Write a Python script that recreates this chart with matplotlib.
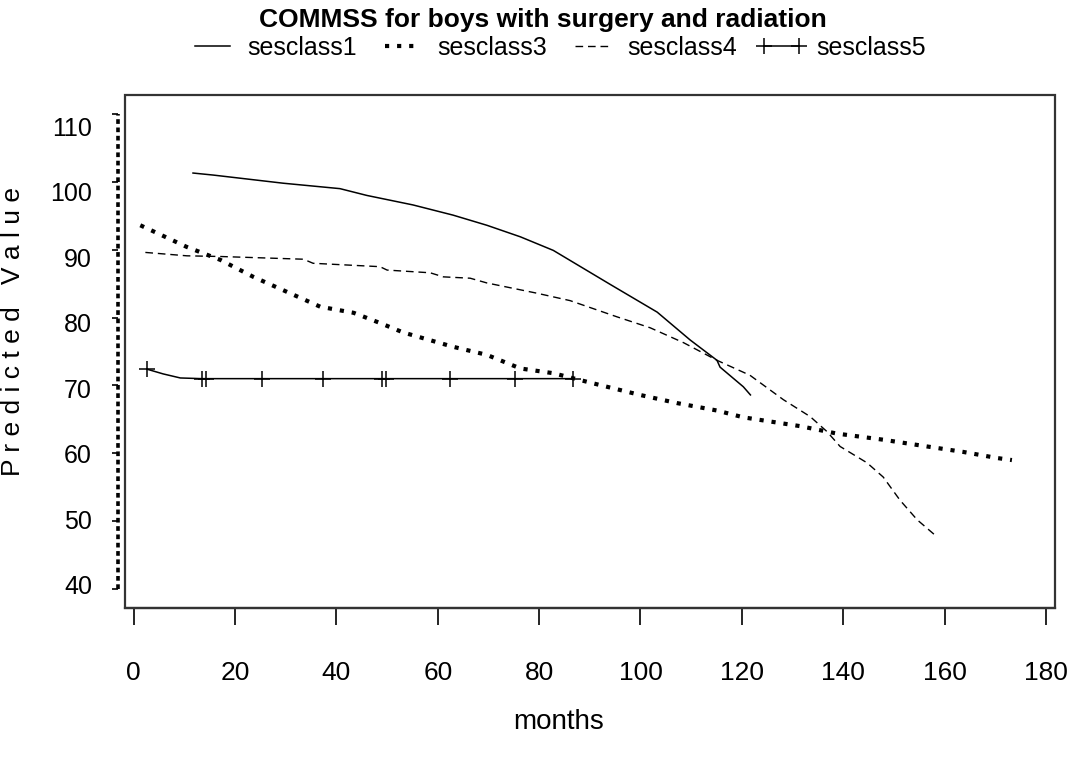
import matplotlib
matplotlib.use("Agg")
import matplotlib.pyplot as plt
from matplotlib.lines import Line2D
from matplotlib.patches import Rectangle
from matplotlib.transforms import ScaledTranslation

plt.rcParams['font.family'] = ['Liberation Sans', 'DejaVu Sans']

# ---- data ----
months1 = [11.7, 15.7, 29.5, 40.7, 46.0, 55.1, 63.0, 69.7, 76.3, 82.8, 94.0, 103.3, 109.8, 115.1, 115.7, 120.3, 121.7]
pred1 = [101.3, 101.0, 99.8, 99.0, 98.0, 96.6, 95.1, 93.6, 91.9, 89.9, 84.9, 80.8, 76.7, 73.7, 72.7, 69.8, 68.6]

months3 = [1.3, 3.9, 10.5, 17.1, 23.6, 30.2, 36.8, 43.4, 48.6, 53.2, 63.0, 69.7, 76.3, 82.8, 90.7,
           99.9, 107.2, 115.1, 120.3, 131.5, 138.8, 147.9, 156.6, 163.7, 170.4, 173.3]
pred3 = [93.6, 92.7, 90.4, 88.5, 86.0, 83.8, 81.6, 80.7, 79.2, 77.8, 75.7, 74.5, 72.5, 71.8, 70.3,
         68.6, 67.4, 66.3, 65.3, 64.0, 62.9, 62.0, 61.0, 60.2, 59.3, 59.0]

months4 = [2.3, 10.5, 17.1, 33.5, 35.4, 48.6, 50.0, 58.5, 61.1, 66.4, 69.7, 79.5, 86.1, 95.4, 101.9,
           108.5, 115.1, 121.6, 128.2, 133.5, 136.8, 139.4, 144.7, 147.9, 151.2, 154.6, 158.5]
pred4 = [89.6, 89.1, 89.0, 88.6, 88.0, 87.5, 87.0, 86.6, 86.0, 85.8, 85.1, 83.6, 82.5, 80.1, 78.5,
         76.3, 73.7, 71.5, 67.9, 65.4, 63.2, 61.0, 58.6, 56.5, 53.1, 50.2, 47.7]

months5 = [2.6, 5.8, 9.2, 13.4, 14.3, 25.4, 37.4, 48.9, 49.7, 62.4, 75.3, 86.6]
pred5 = [72.4, 71.7, 71.1, 71.0, 71.0, 71.0, 71.0, 71.0, 71.0, 71.0, 71.0, 71.0]
marker_idx5 = [0, 3, 4, 5, 6, 7, 8, 9, 10, 11]

labels = ['sesclass1', 'sesclass3', 'sesclass4', 'sesclass5']
xticks = [0, 20, 40, 60, 80, 100, 120, 140, 160, 180]
yticks = [40, 50, 60, 70, 80, 90, 100, 110]

W, H = 1068, 757
fig = plt.figure(figsize=(W / 100, H / 100), dpi=100)
L, R, T, B = 125.3, 1055, 95, 608
ax = fig.add_axes([L / W, 1 - B / H, (R - L) / W, (B - T) / H])

ax.plot(months1, pred1, color='black', lw=1.1, solid_joinstyle='round')
ax.plot(months3, pred3, color='black', lw=3.0, linestyle=(0, (1.0, 1.9)))
ax.plot(months4, pred4, color='black', lw=1.0, linestyle=(0, (5.5, 3.5)))
ax.plot(months5, pred5, color='black', lw=1.1, marker='+', markersize=12,
        markeredgewidth=1.1, markevery=marker_idx5)

ax.set_xlim(-1.66, 181.8)
ax.set_ylim(37.2, 112.8)
ax.set_xticks(xticks)
ax.set_yticks(yticks)

# frame
for s in ['top', 'right']:
    ax.spines[s].set_visible(False)
ax.spines['bottom'].set_color('#333333')
ax.spines['bottom'].set_linewidth(1.6)
ax.spines['left'].set_position(('outward', 5))
ax.spines['left'].set_bounds(40, 110)
ax.spines['left'].set_linewidth(2.6)
ax.spines['left'].set_linestyle((0, (1.3, 1.0)))
ax.spines['left'].set_capstyle('butt')
ax.spines['left'].set_color('black')
ax.add_patch(Rectangle((0, 0), 1, 1, transform=ax.transAxes, fill=False,
                       edgecolor='#333333', lw=1.6, clip_on=False, zorder=5))

ax.tick_params(axis='x', direction='out', length=12, width=1.2, pad=26,
               labelsize=19, colors='black')
ax.tick_params(axis='y', direction='out', length=4, width=1.2, pad=15,
               labelsize=18, colors='black')

# y tick labels in the original sit slightly below their ticks near the top
for v, lab in zip(yticks, ax.get_yticklabels()):
    dy_px = -4 + (v - 40) / 10 * 2.3
    lab.set_transform(lab.get_transform() +
                      ScaledTranslation(0, -dy_px / 100, fig.dpi_scale_trans))

ax.set_xlabel('months', fontsize=20, va='center')
ax.xaxis.set_label_coords((559 - L) / (R - L), -(722 - B) / (B - T))
ax.set_ylabel('P r e d i c t e d   V a l u e', fontsize=19)
ax.yaxis.set_label_coords(-0.108, (B - 331) / (B - T))

fig.text(543 / W, 1 - 20 / H, 'COMMSS for boys with surgery and radiation',
         ha='center', va='center', fontsize=19, fontweight='bold')

handles = [
    Line2D([], [], color='black', lw=1.1),
    Line2D([], [], color='black', lw=3.0, linestyle=(0, (1.0, 1.9))),
    Line2D([], [], color='black', lw=1.0, linestyle=(0, (5.5, 3.5))),
    Line2D([], [], color='black', lw=1.1, marker='+', markersize=12, markeredgewidth=1.1),
]
fig.legend(handles, labels, loc='center', bbox_to_anchor=(557 / W, 1 - 48 / H),
           ncol=4, frameon=False, fontsize=18, handlelength=2.0, handletextpad=0.4,
           columnspacing=0.8, numpoints=2, borderpad=0)

fig.savefig('out.png', dpi=100)
